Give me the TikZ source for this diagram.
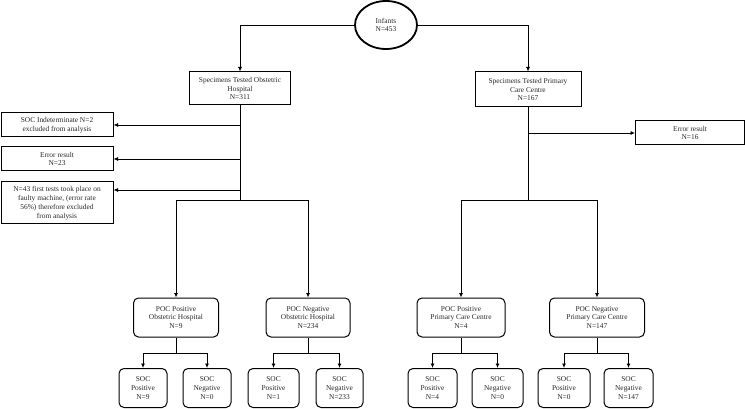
\documentclass[tikz,border=0pt]{standalone}
\usepackage{fontspec}
\setmainfont{Liberation Serif}
\usetikzlibrary{arrows.meta,shapes.geometric,calc}
\begin{document}
\begin{tikzpicture}[x=1pt,y=-1pt,
  every node/.style={font=\fontsize{7.4}{8.8}\selectfont, align=center, inner sep=1pt, text=black!85},
  sqbox/.style={draw, line width=1.0pt, rectangle},
  rbox/.style={draw, line width=1.0pt, rectangle, rounded corners=5pt},
  line/.style={line width=0.8pt},
  arr/.style={line width=0.8pt, -{Latex[length=4.5pt,width=4pt]}}]
\useasboundingbox (0,0) rectangle (745,409);
% top
\node[draw, ellipse, line width=1.8pt, minimum width=62pt, minimum height=48pt] (inf) at (386,25) {Infants\\N=453};
\node[sqbox, minimum width=101pt, minimum height=33pt] (soh) at (240,88.5) {Specimens Tested Obstetric\\Hospital\\N=311};
\node[sqbox, minimum width=106pt, minimum height=35pt] (spc) at (528,89.5) {Specimens Tested Primary\\Care Centre\\N=167};
% exclusions
\node[sqbox, minimum width=112pt, minimum height=24pt] (ind) at (57,125) {SOC Indeterminate N=2\\excluded from analysis};
\node[sqbox, minimum width=112pt, minimum height=24pt] (err1) at (57,159) {Error result\\N=23};
\node[sqbox, minimum width=112pt, minimum height=42pt] (n43) at (57,203) {N=43 first tests took place on\\faulty machine, (error rate\\56\%) therefore excluded\\from analysis};
\node[sqbox, minimum width=109pt, minimum height=24pt] (err2) at (690,133) {Error result\\N=16};
% POC
\node[rbox, minimum width=85pt, minimum height=39pt] (pph) at (176,317.5) {POC Positive\\Obstetric Hospital\\N=9};
\node[rbox, minimum width=84pt, minimum height=39pt] (pnh) at (308,317.5) {POC Negative\\Obstetric Hospital\\N=234};
\node[rbox, minimum width=88pt, minimum height=39pt] (ppc) at (461,317.5) {POC Positive\\Primary Care Centre\\N=4};
\node[rbox, minimum width=95pt, minimum height=39pt] (pnc) at (597,317.5) {POC Negative\\Primary Care Centre\\N=147};
% SOC
\node[rbox, minimum width=48pt, minimum height=39pt] (s1) at (143,388) {SOC\\Positive\\N=9};
\node[rbox, minimum width=48pt, minimum height=39pt] (s2) at (207,388) {SOC\\Negative\\N=0};
\node[rbox, minimum width=51pt, minimum height=39pt] (s3) at (273.5,388) {SOC\\Positive\\N=1};
\node[rbox, minimum width=47pt, minimum height=39pt] (s4) at (339.5,388) {SOC\\Negative\\N=233};
\node[rbox, minimum width=49pt, minimum height=39pt] (s5) at (432.5,388) {SOC\\Positive\\N=4};
\node[rbox, minimum width=51pt, minimum height=39pt] (s6) at (497.5,388) {SOC\\Negative\\N=0};
\node[rbox, minimum width=52pt, minimum height=39pt] (s7) at (564,388) {SOC\\Positive\\N=0};
\node[rbox, minimum width=49pt, minimum height=39pt] (s8) at (628.5,388) {SOC\\Negative\\N=147};
% connectors top
\draw[arr] (inf.west) -| (soh.north);
\draw[arr] (inf.east) -| (spc.north);
% left trunk
\coordinate (ls) at (240,200);
\draw[line] (soh.south) -- (ls);
\draw[arr] (soh.south |- ind.east) -- (ind.east);
\draw[arr] (soh.south |- err1.east) -- (err1.east);
\draw[arr] (soh.south |- 0,190) -- (n43.east |- 0,190);
\draw[arr] (ls) -| (pph.north);
\draw[arr] (ls) -| (pnh.north);
% right trunk
\coordinate (rs) at (528,200);
\draw[line] (spc.south) -- (rs);
\draw[arr] (spc.south |- err2.west) -- (err2.west);
\draw[arr] (rs) -| (ppc.north);
\draw[arr] (rs) -| (pnc.north);
% POC to SOC
\foreach \p/\a/\b in {pph/s1/s2, pnh/s3/s4, ppc/s5/s6, pnc/s7/s8}{
  \coordinate (k\p) at ($(\p.south)+(0,16)$);
  \draw[line] (\p.south) -- (k\p);
  \draw[arr] (k\p) -| (\a.north);
  \draw[arr] (k\p) -| (\b.north);
}
\end{tikzpicture}
\end{document}
